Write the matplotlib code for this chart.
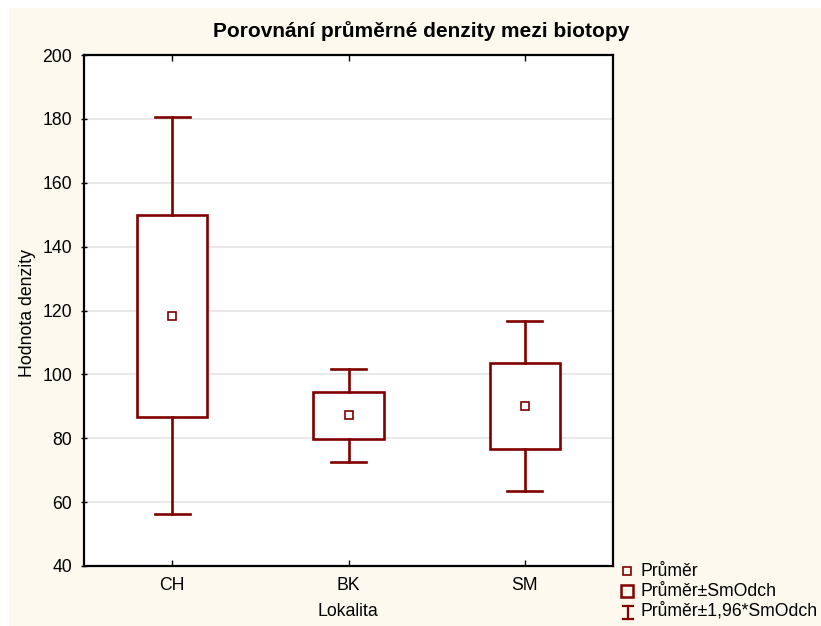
import matplotlib
matplotlib.use("Agg")
import matplotlib.pyplot as plt
from matplotlib.patches import Rectangle

# Mean density and standard deviation per locality
categories = ["CH", "BK", "SM"]
means = [118.3, 87.2, 90.1]
sds = [31.7, 7.4, 13.6]
yticks = [40, 60, 80, 100, 120, 140, 160, 180, 200]

title = "Porovnání průměrné denzity mezi biotopy"
xlabel = "Lokalita"
ylabel = "Hodnota denzity"
legend_labels = ["Průměr", "Průměr±SmOdch", "Průměr±1,96*SmOdch"]

DARK_RED = "#800000"
CREAM = "#FDF9EE"
plt.rcParams["font.family"] = ["Liberation Sans", "DejaVu Sans"]
FS = 12.7

W, H = 821, 626
fig = plt.figure(figsize=(W / 100, H / 100), dpi=100, facecolor="white")
fig.add_artist(Rectangle((9 / W, 0), 1 - 9 / W, 1 - 8 / H, transform=fig.transFigure,
                         facecolor=CREAM, edgecolor="none", zorder=-10))

ax = fig.add_axes([84 / W, (H - 566) / H, 529 / W, 511 / H])
ax.set_facecolor("white")
ax.set_xlim(-0.5, len(categories) - 0.5)
ax.set_ylim(yticks[0], yticks[-1])
ax.set_yticks(yticks)
ax.set_xticks(range(len(categories)))
ax.set_xticklabels(categories)
ax.grid(axis="y", color="#e4e4e4", lw=1.2, zorder=0)
ax.set_axisbelow(True)

for sp in ax.spines.values():
    sp.set_linewidth(1.6)
    sp.set_color("black")

ax.tick_params(axis="y", direction="inout", length=5, width=1, labelsize=FS, pad=6)
ax.tick_params(axis="x", direction="in", length=4, width=1, top=True, labelsize=FS, pad=8)

box_w = 0.4
cap_w = 0.2
for i, (m, s) in enumerate(zip(means, sds)):
    ax.add_patch(Rectangle((i - box_w / 2, m - s), box_w, 2 * s, facecolor="white",
                           edgecolor=DARK_RED, lw=1.9, zorder=3))
    hi, lo = m + 1.96 * s, m - 1.96 * s
    ax.plot([i, i], [m + s, hi], color=DARK_RED, lw=1.9, zorder=3)
    ax.plot([i, i], [m - s, lo], color=DARK_RED, lw=1.9, zorder=3)
    ax.plot([i - cap_w / 2, i + cap_w / 2], [hi, hi], color=DARK_RED, lw=1.9, zorder=3)
    ax.plot([i - cap_w / 2, i + cap_w / 2], [lo, lo], color=DARK_RED, lw=1.9, zorder=3)
    ax.plot(i, m, marker="s", ms=5.5, mfc="white", mec=DARK_RED, mew=1.2, zorder=4)

fig.text(421 / W, 1 - 31 / H, title, ha="center", va="center", fontsize=15, fontweight="bold")
fig.text(348 / W, 1 - 612 / H, xlabel, ha="center", va="center", fontsize=FS)
fig.text(27 / W, 1 - 313 / H, ylabel, ha="center", va="center", rotation=90, fontsize=FS)

# Legend drawn in figure pixel space
ov = fig.add_axes([0, 0, 1, 1])
ov.set_xlim(0, W)
ov.set_ylim(H, 0)
ov.axis("off")
ov.patch.set_alpha(0)
ov.add_patch(Rectangle((623, 566.5), 8, 8, facecolor="none", edgecolor=DARK_RED, lw=1.2))
ov.add_patch(Rectangle((621, 585), 12, 12, facecolor="none", edgecolor=DARK_RED, lw=1.8))
ov.plot([627.5, 627.5], [606, 619], color=DARK_RED, lw=1.6)
ov.plot([622.5, 632.5], [606, 606], color=DARK_RED, lw=1.6)
ov.plot([622.5, 632.5], [619, 619], color=DARK_RED, lw=1.6)
for y, lab in zip([571, 591, 611], legend_labels):
    ov.text(641, y, lab, ha="left", va="center", fontsize=FS)

fig.savefig("out.png", dpi=100, facecolor=fig.get_facecolor())
